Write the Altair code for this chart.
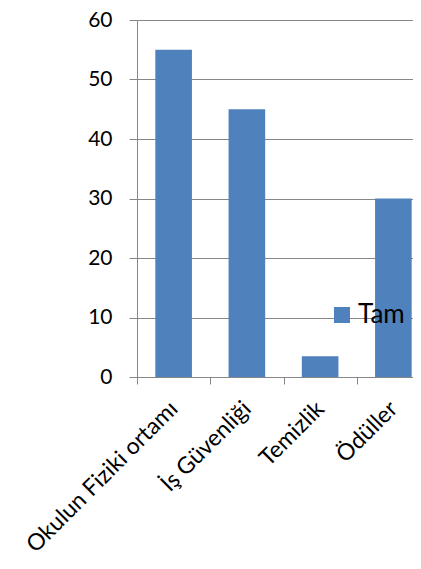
import altair as alt
import pandas as pd

categories = ["Okulun Fiziki ortamı", "İş Güvenliği", "Temizlik", "Ödüller"]
values = [55, 45, 3.5, 30]
series = ["Tam", "Tam", "Tam", "Tam"]
y_ticks = [0, 10, 20, 30, 40, 50, 60]

df = pd.DataFrame({"category": categories, "value": values, "series": series})

FONT = "Lato"

chart = alt.Chart(df).mark_bar(color="#4F81BD", width=alt.RelativeBandSize(0.5)).encode(
    x=alt.X(
        "category:N",
        sort=categories,
        scale=alt.Scale(range=[0, 293], paddingInner=0, paddingOuter=0),
        axis=alt.Axis(
            title=None,
            labelAngle=-45,
            labelAlign="right",
            labelBaseline="middle",
            labelFont=FONT,
            labelFontSize=23,
            labelColor="#000000",
            labelPadding=21,
            tickBand="extent",
            tickSize=7,
            tickColor="#868686",
            domainColor="#868686",
            grid=False,
            labelOverlap=False,
            labelLimit=400,
        ),
    ),
    y=alt.Y(
        "value:Q",
        scale=alt.Scale(domain=[0, 60], nice=False),
        axis=alt.Axis(
            title=None,
            values=y_ticks,
            labelFont=FONT,
            labelFontSize=21,
            labelColor="#000000",
            labelPadding=17,
            tickSize=8,
            tickColor="#868686",
            domainColor="#868686",
            gridColor="#868686",
            grid=True,
        ),
    ),
    color=alt.Color(
        "series:N",
        scale=alt.Scale(range=["#4F81BD"]),
        legend=alt.Legend(
            title=None,
            orient="none",
            legendX=192,
            legendY=282,
            padding=0,
            symbolType="square",
            symbolSize=256,
            symbolStrokeWidth=0,
            labelFont=FONT,
            labelFontSize=26,
            labelColor="#000000",
            labelOffset=3,
        ),
    ),
).properties(
    width=276,
    height=357,
    autosize=alt.AutoSizeParams(type="none"),
    padding={"left": 129, "top": 12, "right": 0, "bottom": 180},
).configure_view(stroke=None)

chart.save("out.html", embed_options={"renderer": "svg", "actions": False})
